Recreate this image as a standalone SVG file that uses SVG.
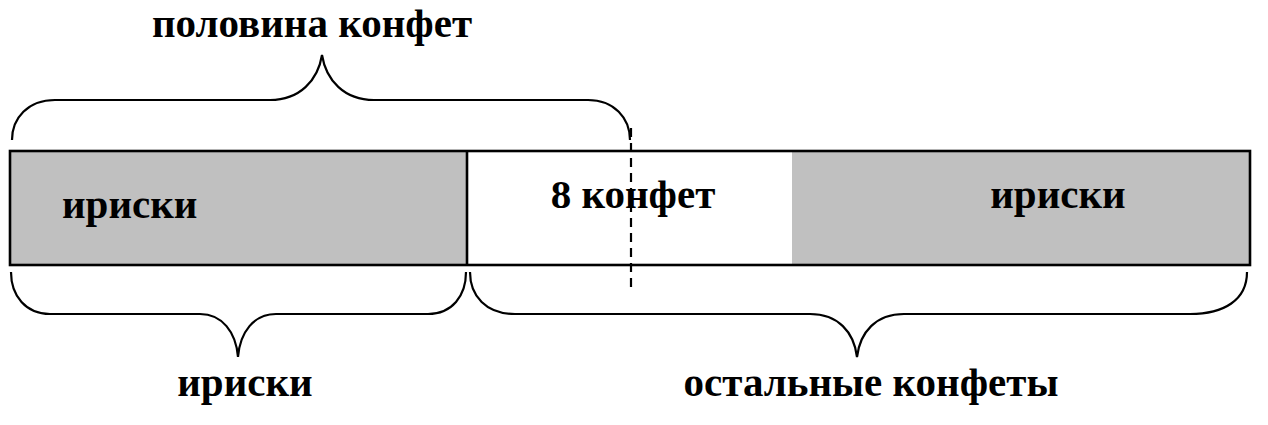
<svg xmlns="http://www.w3.org/2000/svg" width="1268" height="425" viewBox="0 0 1268 425">
<style>
.t{font-family:"Liberation Serif","Times New Roman",serif;font-weight:bold;font-size:41px;fill:#000}
.br{fill:none;stroke:#000;stroke-width:2.2}
.gray{fill:#c0c0c0}
</style>
<rect x="0" y="0" width="1268" height="425" fill="#fff"/>
<g id="bar">
<rect class="gray" x="10" y="151" width="457" height="114"/>
<rect class="gray" x="792" y="151" width="458" height="114"/>
<rect x="10" y="151" width="1240" height="114" fill="none" stroke="#000" stroke-width="2.6"/>
<line x1="467" y1="151" x2="467" y2="265" stroke="#000" stroke-width="2.6"/>
</g>
<g id="connectors">
<line x1="631" y1="128" x2="631" y2="288" stroke="#000" stroke-width="2.2" stroke-dasharray="9,6"/>
<path class="br" d="M12,140 C12,118 28,100 55,100 L270,100 C300,100 318,80 322,55 C326,80 344,100 374,100 L588,100 C614,100 630,118 630,140"/>
<path class="br" d="M11,272 C11,296 26,314 50,314 L200,314 C222,314 236,332 238,357 C240,332 254,314 276,314 L428,314 C452,314 466,296 466,272"/>
<path class="br" d="M470,272 C470,296 486,314 515,314 L810,314 C838,314 854,332 857,357 C860,332 876,314 904,314 L1190,314 C1224,314 1247,300 1247,272"/>
</g>
<g id="labels">
<text class="t" x="312" y="37" text-anchor="middle">половина конфет</text>
<text class="t" x="62" y="218">ириски</text>
<text class="t" x="633" y="208" text-anchor="middle">8 конфет</text>
<text class="t" x="1058" y="208" text-anchor="middle">ириски</text>
<text class="t" x="245" y="396" text-anchor="middle">ириски</text>
<text class="t" x="871" y="396" text-anchor="middle">остальные конфеты</text>
</g>
</svg>
